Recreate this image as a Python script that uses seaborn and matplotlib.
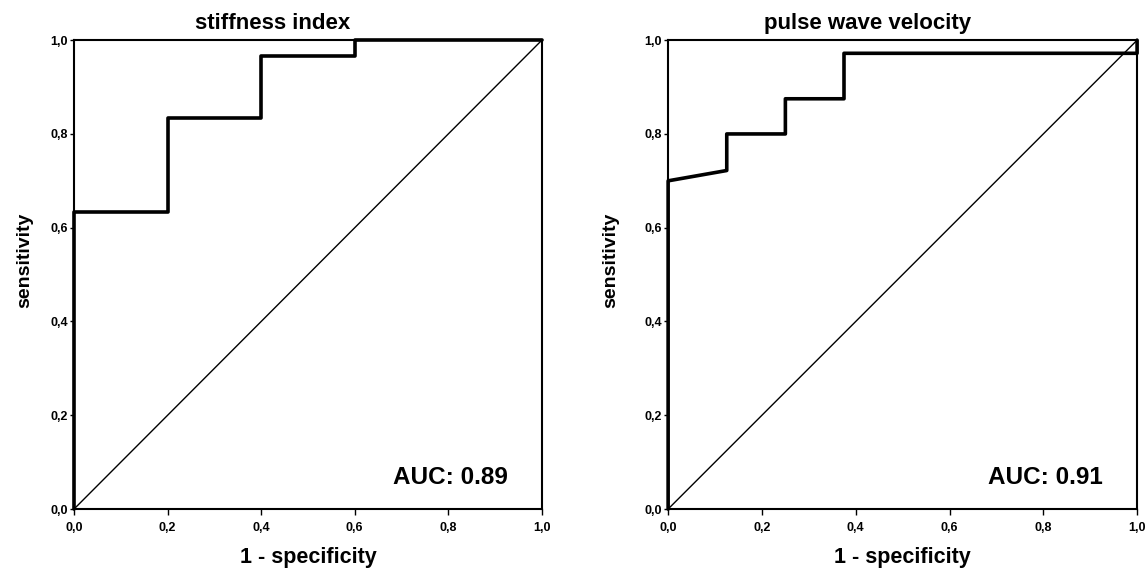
import numpy as np
import pandas as pd
import matplotlib
matplotlib.use("Agg")
import matplotlib.pyplot as plt
import seaborn as sns

# ROC step points
si_fpr = [0.0, 0.0, 0.2, 0.2, 0.4, 0.4, 0.6, 0.6, 1.0]
si_tpr = [0.0, 0.633, 0.633, 0.833, 0.833, 0.967, 0.967, 1.0, 1.0]
si_auc = "0.89"

pwv_fpr = [0.0, 0.0, 0.125, 0.125, 0.25, 0.25, 0.375, 0.375, 1.0, 1.0]
pwv_tpr = [0.0, 0.70, 0.722, 0.80, 0.80, 0.875, 0.875, 0.972, 0.972, 1.0]
pwv_auc = "0.91"

titles = ["stiffness index", "pulse wave velocity"]
tick_values = [0.0, 0.2, 0.4, 0.6, 0.8, 1.0]
tick_labels = ["0,0", "0,2", "0,4", "0,6", "0,8", "1,0"]

sns.set_style("ticks")
plt.rcParams["font.family"] = ["Liberation Sans", "DejaVu Sans"]
plt.rcParams["text.color"] = "black"
plt.rcParams["axes.labelcolor"] = "black"
plt.rcParams["xtick.color"] = "black"
plt.rcParams["ytick.color"] = "black"

fig = plt.figure(figsize=(11.48, 5.69), dpi=100)
ax1 = fig.add_axes([0.0645, 0.1054, 0.4075, 0.824])
ax2 = fig.add_axes([0.582, 0.1054, 0.4085, 0.824])

panels = [
    (ax1, si_fpr, si_tpr, si_auc, titles[0], 0.424, -0.088),
    (ax2, pwv_fpr, pwv_tpr, pwv_auc, titles[1], 0.426, -0.105),
]

for ax, fpr, tpr, auc, title, title_x, ylab_x in panels:
    df = pd.DataFrame({"fpr": fpr, "tpr": tpr})
    sns.lineplot(data=df, x="fpr", y="tpr", sort=False, estimator=None,
                 color="black", linewidth=2.6, ax=ax, clip_on=False, zorder=3)
    diag = pd.DataFrame({"x": [0.0, 1.0], "y": [0.0, 1.0]})
    sns.lineplot(data=diag, x="x", y="y", color="black", linewidth=1.0,
                 ax=ax, zorder=2)

    ax.set_xlim(0, 1)
    ax.set_ylim(0, 1)
    ax.set_xticks(tick_values)
    ax.set_yticks(tick_values)
    ax.set_xticklabels(tick_labels, fontsize=9, fontweight="bold")
    ax.set_yticklabels(tick_labels, fontsize=9, fontweight="bold")
    ax.tick_params(axis="x", direction="out", length=4, width=1, pad=5)
    ax.tick_params(axis="y", direction="out", length=3, width=1, pad=1.5)
    for sp in ax.spines.values():
        sp.set_visible(True)
        sp.set_linewidth(1.5)
        sp.set_color("black")

    ax.set_xlabel("1 - specificity", fontsize=15.5, fontweight="bold", labelpad=10)
    ax.set_ylabel("sensitivity", fontsize=14, fontweight="bold")
    ax.yaxis.set_label_coords(ylab_x, 0.53)
    ax.text(title_x, 1.036, title, transform=ax.transAxes, ha="center",
            va="center", fontsize=16, fontweight="bold")
    ax.text(0.927, 0.067, f"AUC: {auc}", transform=ax.transAxes, ha="right",
            va="center", fontsize=17.5, fontweight="bold")

fig.savefig("out.png", dpi=100, facecolor="white")
